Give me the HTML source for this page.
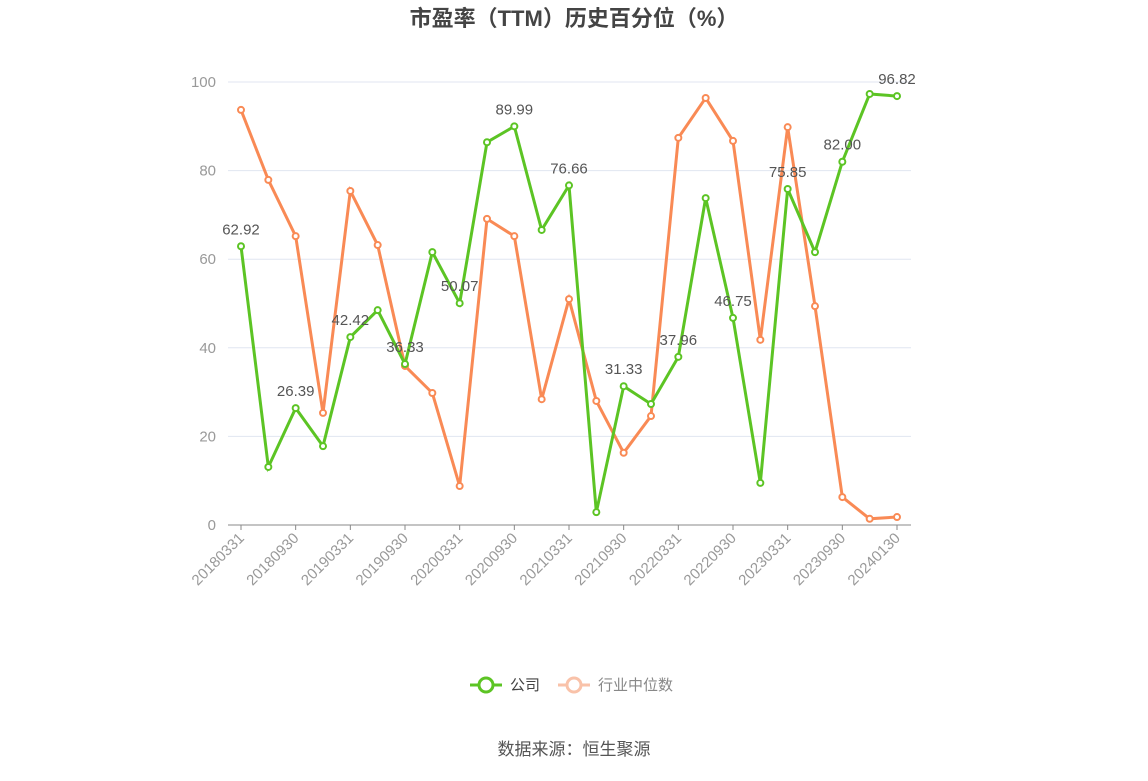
<!DOCTYPE html>
<html><head><meta charset="utf-8">
<style>
body{margin:0;background:#fff;font-family:"Liberation Sans","Noto Sans CJK SC",sans-serif;}
svg text{font-family:"Liberation Sans","Noto Sans CJK SC",sans-serif;}
</style></head>
<body>
<svg id="chart" width="1148" height="776" xmlns="http://www.w3.org/2000/svg">
<text x="574" y="26" text-anchor="middle" font-size="22" font-weight="bold" fill="#444">市盈率（TTM）历史百分位（%）</text>
<g id="grid"></g><g id="axes"></g><g id="series"></g>
<g>
<g>
<line x1="470" y1="685" x2="502" y2="685" stroke="#5cc424" stroke-width="3"/>
<circle cx="486" cy="685" r="7" fill="#fff" stroke="#5cc424" stroke-width="3"/>
<text x="510" y="690" font-size="15" fill="#444">公司</text></g>
<g>
<line x1="558" y1="685" x2="590" y2="685" stroke="#f9c2a9" stroke-width="3"/>
<circle cx="574" cy="685" r="7" fill="#fff" stroke="#f9c2a9" stroke-width="3"/>
<text x="598" y="690" font-size="15" fill="#888">行业中位数</text></g>
</g>
<text x="574" y="755" text-anchor="middle" font-size="17" fill="#555">数据来源：恒生聚源</text>
</svg>
<script>
const categories=["20180331","20180630","20180930","20181231","20190331","20190630","20190930","20191231","20200331","20200630","20200930","20201231","20210331","20210630","20210930","20211231","20220331","20220630","20220930","20221231","20230331","20230630","20230930","20231231","20240130"];
const companyValues=[62.92,13.1,26.39,17.8,42.42,48.5,36.33,61.6,50.07,86.4,89.99,66.6,76.66,2.9,31.33,27.3,37.96,73.8,46.75,9.5,75.85,61.6,82.00,97.3,96.82];
const industryValues=[93.7,77.9,65.2,25.3,75.4,63.2,35.9,29.8,8.8,69.1,65.2,28.4,51.0,28.0,16.3,24.6,87.4,96.4,86.7,41.8,89.8,49.4,6.3,1.4,1.8];
const yTicks=[0,20,40,60,80,100];
const NS="http://www.w3.org/2000/svg";
const x0=241,x1=897,yBase=525,yTop=82,plotL=228,plotR=911;
const xS=i=>x0+(x1-x0)*i/(categories.length-1);
const yS=v=>yBase-(yBase-yTop)*v/100;
function mk(t,a,p){const e=document.createElementNS(NS,t);for(const k in a)e.setAttribute(k,a[k]);p.appendChild(e);return e;}
const grid=document.getElementById('grid'),axes=document.getElementById('axes'),ser=document.getElementById('series');
yTicks.forEach(v=>{
 const l=mk('line',{x1:plotL,x2:plotR,y1:yS(v),y2:yS(v),stroke:v===0?'#888':'#e0e6f1','stroke-width':1},grid);
 
 
 const t=mk('text',{x:216,y:yS(v)+5,'text-anchor':'end','font-size':15,fill:'#999'},axes);
 t.textContent=v;
 
 
});
categories.forEach((c,i)=>{
 if(i%2)return;
 const x=xS(i);
 const tk=mk('line',{x1:x,x2:x,y1:yBase,y2:yBase+5,stroke:'#888'},axes);
 
 
 const t=mk('text',{x:x+4,y:yBase+14,'text-anchor':'end','font-size':15,fill:'#999',transform:`rotate(-45 ${x+4} ${yBase+14})`},axes);
 t.textContent=c;
 
 
});
function series(vals,color,name,labels){
 const p=mk('polyline',{points:vals.map((v,i)=>xS(i)+','+yS(v)).join(' '),fill:'none',stroke:color,'stroke-width':3},ser);
 
 
 vals.forEach((v,i)=>{
  const c=mk('circle',{cx:xS(i),cy:yS(v),r:3,fill:'#fff',stroke:color,'stroke-width':2},ser);
  
  
  if(labels&&i%2===0){
   const t=mk('text',{x:xS(i),y:yS(v)-12,'text-anchor':'middle','font-size':15,fill:'#555'},ser);
   t.textContent=v.toFixed(2);
   
   
  }
 });
}
series(industryValues,'#f98a55','industry-median',false);
series(companyValues,'#5cc424','company',true);
</script>
</body></html>
